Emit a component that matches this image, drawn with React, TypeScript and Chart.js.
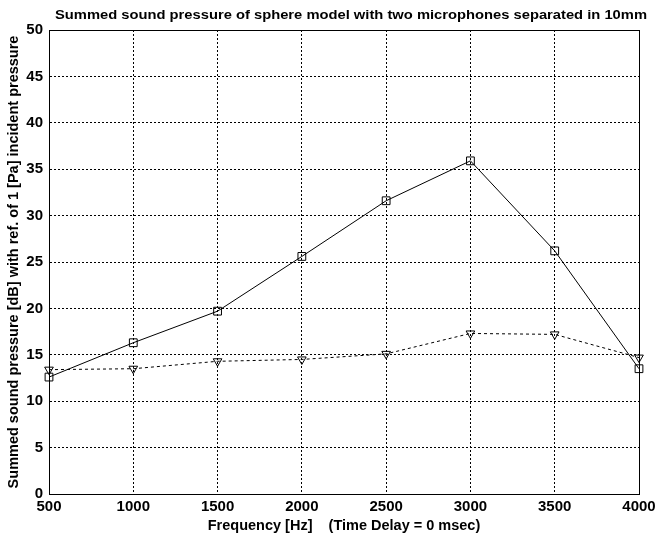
import React, { useEffect, useRef } from "react";
import { Chart, registerables } from "chart.js";

Chart.register(...registerables);

const frequencies = [500, 1000, 1500, 2000, 2500, 3000, 3500, 4000];
const squareSeries = [12.6, 16.3, 19.7, 25.6, 31.6, 35.9, 26.2, 13.5];
const triangleSeries = [13.4, 13.5, 14.3, 14.5, 15.1, 17.3, 17.2, 14.7];
const xTicks = [500, 1000, 1500, 2000, 2500, 3000, 3500, 4000];
const yTicks = [0, 5, 10, 15, 20, 25, 30, 35, 40, 45, 50];

const titleText = "Summed sound pressure of sphere model with two microphones separated in 10mm";
const xTitle = "Frequency [Hz]    (Time Delay = 0 msec)";
const yTitle = "Summed sound pressure [dB] with ref. of 1 [Pa] incident pressure";

const FONT = "'Liberation Sans', Arial, sans-serif";

export default function App() {
  const ref = useRef<HTMLCanvasElement | null>(null);

  useEffect(() => {
    const canvas = ref.current;
    if (!canvas) return;

    const titlePlugin = {
      id: "customTitle",
      afterDraw(chart: any) {
        const ctx = chart.ctx;
        ctx.save();
        ctx.font = `bold 13px ${FONT}`;
        ctx.fillStyle = "#000";
        ctx.textAlign = "center";
        ctx.textBaseline = "middle";
        const w = ctx.measureText(titleText).width;
        const target = 592;
        const sx = target / w;
        ctx.translate(351, 15);
        ctx.scale(sx, 1);
        ctx.fillText(titleText, 0, 0);
        ctx.restore();
      },
    };

    const framePlugin = {
      id: "frame",
      afterDatasetsDraw(chart: any) {
        const { ctx, chartArea } = chart;
        ctx.save();
        ctx.strokeStyle = "#000";
        ctx.lineWidth = 1;
        ctx.strokeRect(
          Math.round(chartArea.left) + 0.5,
          Math.round(chartArea.top) + 0.5,
          Math.round(chartArea.right - chartArea.left),
          Math.round(chartArea.bottom - chartArea.top)
        );
        ctx.restore();
      },
    };

    const chart = new Chart(canvas, {
      type: "line",
      data: {
        labels: frequencies,
        datasets: [
          {
            label: "Summed (square)",
            data: frequencies.map((f, i) => ({ x: f, y: squareSeries[i] })),
            borderColor: "#000",
            borderWidth: 1,
            backgroundColor: "rgba(0,0,0,0)",
            pointStyle: "rect",
            pointRadius: 5.5,
            pointBorderWidth: 1,
            pointBorderColor: "#000",
            pointBackgroundColor: "rgba(0,0,0,0)",
            tension: 0,
            clip: false as any,
          },
          {
            label: "Summed (triangle)",
            data: frequencies.map((f, i) => ({ x: f, y: triangleSeries[i] })),
            borderColor: "#000",
            borderWidth: 1,
            borderDash: [3, 3],
            backgroundColor: "rgba(0,0,0,0)",
            pointStyle: "triangle",
            pointRotation: 180,
            pointRadius: 5,
            pointBorderWidth: 1,
            pointBorderColor: "#000",
            pointBackgroundColor: "rgba(0,0,0,0)",
            tension: 0,
            clip: false as any,
          },
        ],
      },
      options: {
        animation: false,
        responsive: false,
        maintainAspectRatio: false,
        layout: { padding: { top: 30, right: 16, left: 0, bottom: 0 } },
        plugins: {
          legend: { display: false },
          title: { display: false },
          tooltip: { enabled: false },
        },
        scales: {
          x: {
            type: "linear",
            min: 500,
            max: 4000,
            afterBuildTicks: (scale: any) => {
              scale.ticks = xTicks.map((v) => ({ value: v }));
            },
            afterFit: (scale: any) => {
              scale.height = 49;
              scale.paddingLeft = 0;
              scale.paddingRight = 0;
            },
            ticks: {
              color: "#000",
              font: { family: FONT, size: 15, weight: "bold" },
              padding: 4,
              maxRotation: 0,
              autoSkip: false,
              callback: (v: any) => String(v),
            },
            grid: {
              color: "#000",
              lineWidth: 1,
              drawTicks: false,
            },
            border: { display: true, color: "#000", dash: [2, 2] } as any,
            title: {
              display: true,
              text: xTitle,
              color: "#000",
              font: { family: FONT, size: 14.5, weight: "bold" },
              padding: { top: 0, bottom: 8 },
            },
          },
          y: {
            type: "linear",
            min: 0,
            max: 50,
            afterBuildTicks: (scale: any) => {
              scale.ticks = yTicks.map((v) => ({ value: v }));
            },
            afterFit: (scale: any) => {
              scale.width = 49;
              scale.paddingTop = 0;
              scale.paddingBottom = 0;
            },
            ticks: {
              color: "#000",
              font: { family: FONT, size: 15, weight: "bold" },
              padding: 6,
              autoSkip: false,
              callback: (v: any) => String(v),
            },
            grid: {
              color: "#000",
              lineWidth: 1,
              drawTicks: false,
            },
            border: { display: true, color: "#000", dash: [2, 2] } as any,
            title: {
              display: true,
              text: yTitle,
              color: "#000",
              font: { family: FONT, size: 14.5, weight: "bold" },
              padding: { top: 5, bottom: 0 },
            },
          },
        },
      },
      plugins: [titlePlugin, framePlugin],
    });

    (chart.options.scales as any).x.grid.borderDash = [2, 2];
    (chart.options.scales as any).y.grid.borderDash = [2, 2];
    chart.update();

    return () => chart.destroy();
  }, []);

  return (
    <div style={{ position: "absolute", left: 0, top: 0, width: 655, height: 543, background: "#fff" }}>
      <canvas ref={ref} width={655} height={543} style={{ display: "block", width: 655, height: 543 }} />
    </div>
  );
}
